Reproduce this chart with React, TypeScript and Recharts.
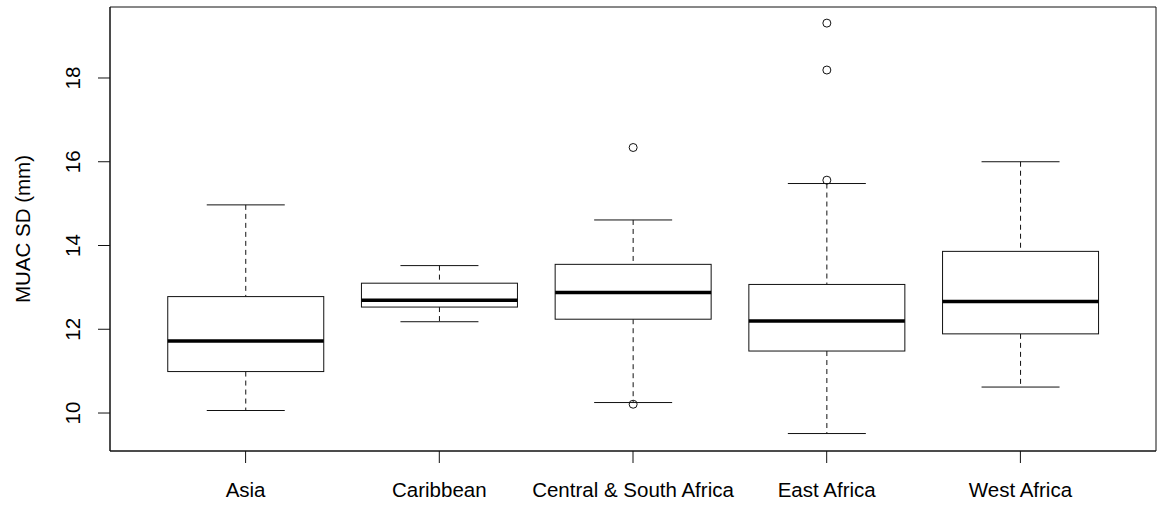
import React from "react";
import { ComposedChart, Bar, XAxis, YAxis, CartesianGrid } from "recharts";

// MUAC SD by region
const regions = ["Asia", "Caribbean", "Central & South Africa", "East Africa", "West Africa"];
const whiskerLow = [10.06, 12.18, 10.25, 9.51, 10.62];
const q1 = [10.99, 12.53, 12.24, 11.48, 11.89];
const medians = [11.72, 12.69, 12.88, 12.2, 12.66];
const q3 = [12.78, 13.1, 13.55, 13.07, 13.86];
const whiskerHigh = [14.97, 13.52, 14.61, 15.48, 16.0];
const outliers: number[][] = [[], [], [16.34, 10.21], [19.31, 18.19, 15.56], []];

const yTicks = [10, 12, 14, 16, 18];
const yDomain = [9.093, 19.695];

const data = regions.map((region, i) => ({
  region,
  range: [whiskerLow[i], whiskerHigh[i]],
  lo: whiskerLow[i],
  q1: q1[i],
  med: medians[i],
  q3: q3[i],
  hi: whiskerHigh[i],
  out: outliers[i],
}));

const FONT = '"Liberation Sans", Arial, sans-serif';
const INK = "#111";

function BoxShape(props: any) {
  const { x, y, width, height, payload } = props;
  if (!payload) return null;
  const { lo, hi } = payload;
  // map a value into pixels using the bar's own whisker range
  const py = (v: number) => y + ((hi - v) * height) / (hi - lo);
  const cx = x + width / 2;
  const cap = width / 4;
  return (
    <g>
      <line x1={cx} x2={cx} y1={py(hi)} y2={py(payload.q3)} stroke={INK} strokeDasharray="5 4" />
      <line x1={cx} x2={cx} y1={py(payload.q1)} y2={py(lo)} stroke={INK} strokeDasharray="5 4" />
      <line x1={cx - cap} x2={cx + cap} y1={py(hi)} y2={py(hi)} stroke={INK} />
      <line x1={cx - cap} x2={cx + cap} y1={py(lo)} y2={py(lo)} stroke={INK} />
      <rect
        x={x}
        y={py(payload.q3)}
        width={width}
        height={py(payload.q1) - py(payload.q3)}
        fill="#fff"
        stroke={INK}
      />
      <line x1={x} x2={x + width} y1={py(payload.med)} y2={py(payload.med)} stroke="#000" strokeWidth={3.5} />
      {payload.out.map((v: number, k: number) => (
        <circle key={k} cx={cx} cy={py(v)} r={4} fill="none" stroke={INK} />
      ))}
    </g>
  );
}

function XTick(props: any) {
  const { x, y, payload } = props;
  return (
    <text x={x} y={y + 34} textAnchor="middle" fontFamily={FONT} fontSize={20.5} fill="#000">
      {payload.value}
    </text>
  );
}

function YTick(props: any) {
  const { x, y, payload } = props;
  return (
    <text
      x={x - 18}
      y={y}
      textAnchor="middle"
      transform={`rotate(-90 ${x - 18} ${y})`}
      fontFamily={FONT}
      fontSize={20.5}
      fill="#000"
    >
      {payload.value}
    </text>
  );
}

function YTitle(props: any) {
  const vb = props.viewBox || { x: 0, y: 7, width: 110, height: 444 };
  const tx = vb.x + 30;
  const ty = vb.y + vb.height / 2;
  return (
    <text
      x={tx}
      y={ty}
      textAnchor="middle"
      transform={`rotate(-90 ${tx} ${ty})`}
      fontFamily={FONT}
      fontSize={20.5}
      fill="#000"
    >
      MUAC SD (mm)
    </text>
  );
}

export default function App() {
  const pad = { left: 38.75, right: 38.75 };
  return (
    <div style={{ position: "absolute", left: 0, top: 0, background: "#fff" }}>
      <ComposedChart
        width={1161}
        height={506}
        data={data}
        margin={{ top: 7, right: 5, bottom: 0, left: 0 }}
      >
        {/* plot frame, drawn on the edges of the plotting area */}
        <CartesianGrid
          stroke={INK}
          fill="none"
          horizontalCoordinatesGenerator={({ offset }: any) => [offset.top, offset.top + offset.height]}
          verticalCoordinatesGenerator={({ offset }: any) => [offset.left, offset.left + offset.width]}
        />
        <XAxis
          dataKey="region"
          height={55}
          padding={pad}
          tickSize={12}
          tickMargin={0}
          tick={<XTick />}
          axisLine={{ stroke: INK }}
          tickLine={{ stroke: INK }}
          interval={0}
        />
        <YAxis
          type="number"
          domain={yDomain}
          ticks={yTicks}
          allowDataOverflow
          width={110}
          tickSize={12}
          tickMargin={0}
          tick={<YTick />}
          axisLine={{ stroke: INK }}
          tickLine={{ stroke: INK }}
          label={<YTitle />}
        />
        <Bar dataKey="range" barSize={156} shape={<BoxShape />} isAnimationActive={false} />
      </ComposedChart>
    </div>
  );
}
